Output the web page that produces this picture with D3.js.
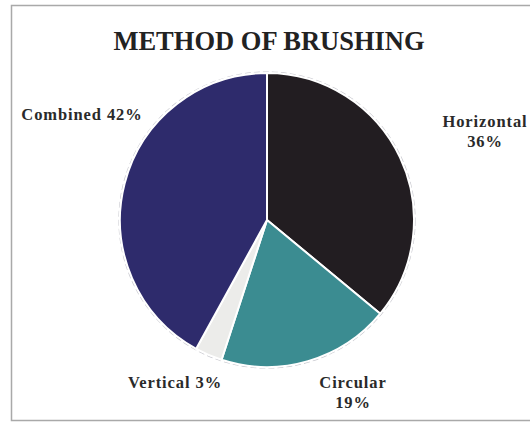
<!DOCTYPE html>
<html>
<head>
<meta charset="utf-8">
<script src="https://cdn.jsdelivr.net/npm/d3@7"></script>
<style>
  html, body { margin: 0; padding: 0; background: #fff; }
  svg { display: block; }
</style>
</head>
<body>
<svg id="chart" width="530" height="422"></svg>
<script>
// ---- data ----
const categories = ["Horizontal", "Circular", "Vertical", "Combined"];
const values = [36, 19, 3, 42];
const labelLines = [["Horizontal", "36%"], ["Circular", "19%"], ["Vertical 3%"], ["Combined 42%"]];
const title = "METHOD OF BRUSHING";

// ---- styles / layout ----
const colors = ["#221d21", "#3b8c91", "#ececea", "#2e2b6c"];
const W = 530, H = 422;
const cx = 267, cy = 220, R = 147;
// label anchor offsets relative to pie centre (layout, not data)
const labelPos = [[218, -93], [86, 168], [-92, 168], [-185, -100]];

const svg = d3.select("#chart");

// frame
svg.append("rect")
  .attr("x", 11.5).attr("y", 5.5)
  .attr("width", W + 10).attr("height", H - 7)
  .attr("fill", "#fff")
  .attr("stroke", "#a9a9a9").attr("stroke-width", 1.5);

// title
svg.append("text")
  .attr("x", 269).attr("y", 50)
  .attr("text-anchor", "middle")
  .attr("font-family", "'Liberation Serif', 'DejaVu Serif', serif")
  .attr("font-weight", "bold")
  .attr("font-size", 26.5)
  .attr("fill", "#222")
  .text(title);

const pie = d3.pie().sort(null).value(d => d)(values);
const arc = d3.arc().innerRadius(0).outerRadius(R);

const g = svg.append("g").attr("transform", `translate(${cx},${cy})`);

// outer faint ring
g.append("circle").attr("r", R + 1)
  .attr("fill", "none").attr("stroke", "#c9c9cf").attr("stroke-width", 1.2)
  .attr("stroke-dasharray", "6 3");

g.selectAll("path.slice")
  .data(pie)
  .join("path")
  .attr("class", "slice")
  .attr("d", arc)
  .attr("fill", (d, i) => colors[i])
  .attr("stroke", "#ffffff")
  .attr("stroke-width", 2)
  .attr("stroke-linejoin", "round");

// labels
const lbl = g.selectAll("text.lbl")
  .data(pie)
  .join("text")
  .attr("class", "lbl")
  .attr("text-anchor", "middle")
  .attr("font-family", "'Liberation Serif', 'DejaVu Serif', serif")
  .attr("font-weight", "bold")
  .attr("font-size", 16.5)
  .attr("letter-spacing", 0.9)
  .attr("fill", "#2a2a2a")
  .attr("transform", (d, i) => `translate(${labelPos[i][0]},${labelPos[i][1]})`);

lbl.each(function(d, i) {
  const t = d3.select(this);
  labelLines[i].forEach((line, j) => {
    t.append("tspan").attr("x", 0).attr("dy", j === 0 ? 0 : 20).text(line);
  });
});
</script>
</body>
</html>
